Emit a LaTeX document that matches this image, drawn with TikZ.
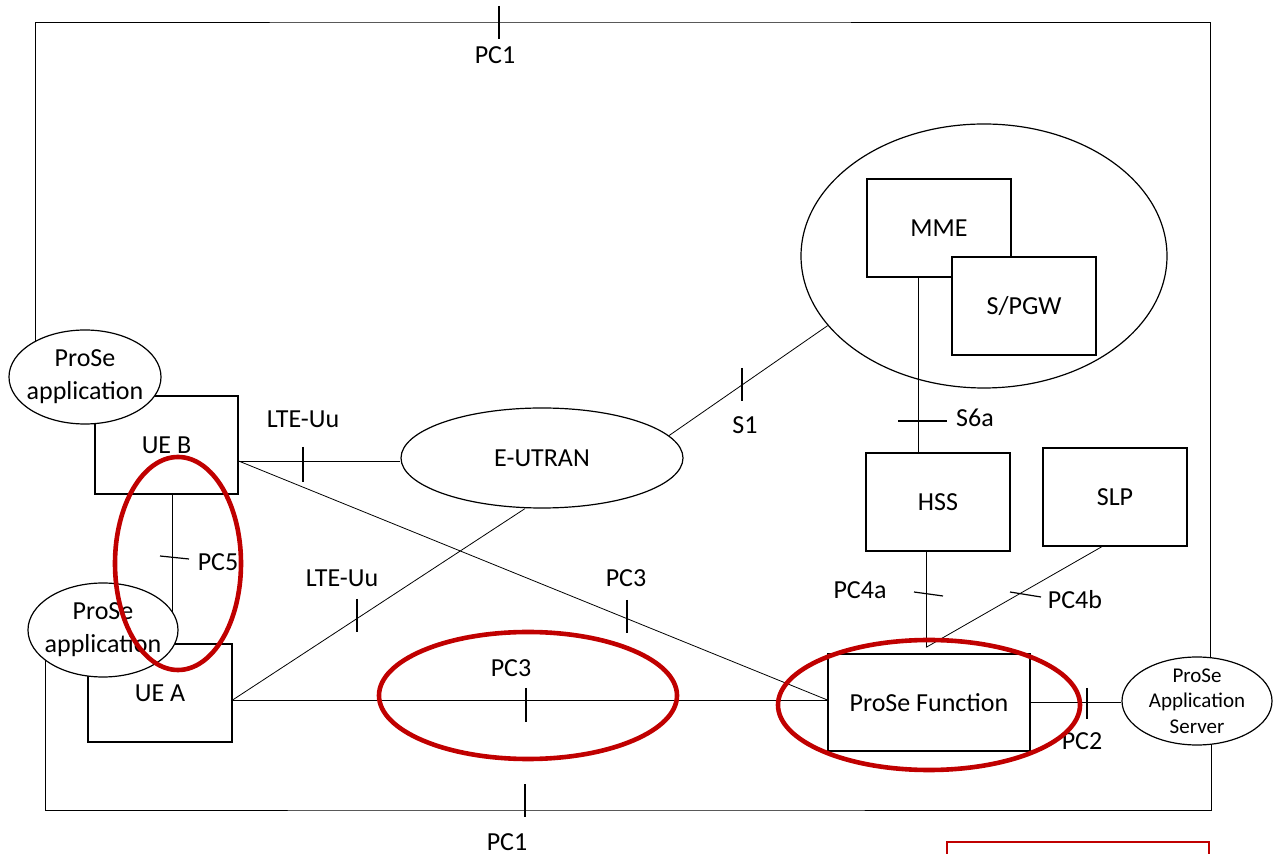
\documentclass[tikz,border=0pt]{standalone}
\usepackage{fontspec}
\setmainfont{Carlito}
\usepackage{xcolor}
\usepackage{tikz}
\usetikzlibrary{shapes.geometric, positioning, calc, backgrounds}

\definecolor{hlred}{RGB}{192,0,0}
\tikzset{
  box/.style={draw, fill=white, minimum width=72pt, minimum height=49pt, inner sep=0pt},
  oval/.style={draw, ellipse, fill=white, inner sep=0pt, align=center},
  lbl/.style={anchor=base, inner sep=0pt},
  hl/.style={draw=hlred, line width=2.3pt},
}

\begin{document}
\begin{tikzpicture}[x=0.5pt, y=-0.5pt, line width=0.6pt, font=\fontsize{13}{16.5}\selectfont]
  \useasboundingbox (0,0) rectangle (1274,854);

  % UEs with their applications
  \node[box, minimum width=71.5pt] (ueB) at (166.5,445) {UE B};
  \node[oval, minimum width=76pt, minimum height=47pt,
        label={[align=center]center:ProSe\\application}] (appB) at (85,377) {};
  \node[box] (ueA) at (160,693) {UE A};
  \node[oval, minimum width=75pt, minimum height=47pt,
        label={[align=center]center:ProSe\\application}] (appA) at (103,630) {};

  % network side
  \node[oval, minimum width=141pt, minimum height=50pt] (eutran) at (542,458) {E-UTRAN};
  \node[oval, fill=none, minimum width=183pt, minimum height=132pt] (epc) at (984,256) {};
  \node[box] (mme) at (939,228) {MME};
  \node[box] (spgw) at (1024,306) {S/PGW};
  \node[box] (hss) at (938,502) {HSS};
  \node[box] (slp) at (1115,497) {SLP};
  \node[box, minimum width=101pt, minimum height=48.5pt] (pf) at (929,702.5) {ProSe Function};
  \node[oval, minimum width=75pt, minimum height=44pt,
        label={[align=center, font=\fontsize{10.5}{12.75}\selectfont]center:ProSe\\Application\\Server}] (as) at (1197,701) {};

  % reference points
  \begin{scope}[on background layer]
    \coordinate (pc1t) at (499,22);
    \coordinate (pc1b) at (525,810);
    \draw ([xshift=-25pt]appB.center) |- (pc1t) -| ([xshift=6.5pt]as.center);
    \draw ([xshift=-29pt]appA.center) |- (pc1b) -| ([xshift=7pt]as.center);

    \coordinate (ueBp) at ([yshift=-8pt]ueB.east);
    \coordinate (ueAp) at ([yshift=-3.5pt]ueA.east);
    \coordinate (pfW) at (ueAp -| pf.west);
    \draw (ueBp) -- (ueBp -| eutran.west);
    \draw (ueBp) -- (pfW);
    \draw (ueAp) -- ([xshift=-8.5pt]eutran.south);
    \draw (ueAp) -- (pfW);
    \draw ([xshift=3pt]ueB.south) -- ([xshift=3pt]ueB.south |- appA.center);

    \draw (eutran.10) -- (epc.204);
    \coordinate (s6a) at ([xshift=-10.5pt]mme.south);
    \draw (s6a) -- (s6a |- hss.north);
    \coordinate (pc4) at ([xshift=-1.5pt, yshift=3pt]pf.north);
    \draw (pc4 |- hss.south) -- (pc4);
    \draw ([xshift=-6.5pt]slp.south) -- (pc4);
    \draw (pf.east) -- (pf.east -| as.west);
  \end{scope}

  % ticks
  \foreach \x/\ya/\yb in {499/6/39, 525/784/817, 303/447/482, 627/600/633,
                          357/599/632, 526/688/722, 742/368/401, 1087/688/719}
    \draw (\x,\ya) -- (\x,\yb);
  \draw (160,556) -- (189,559);
  \draw (914,592) -- (943,596);
  \draw (1010,592) -- (1041,597);
  \draw (898,421) -- (947,421);

  % labels
  \foreach \x/\y/\t [count=\i] in {495/64/PC1, 507/850/PC1, 303/428/LTE-Uu, 342/587/LTE-Uu,
                                   626/587/PC3, 511/677/PC3, 745/434/S1, 975/427/S6a,
                                   860/599/PC4a, 1075/609/PC4b, 1082/749/PC2, 218/571/PC5}
    \node[lbl] (lbl\i) at (\x,\y) {\t};

  % highlights
  \draw[hl] (178,563.5) ellipse [x radius=31.5pt, y radius=53.25pt];
  \draw[hl] (528,695.5) ellipse [x radius=74.5pt, y radius=31.75pt];
  \draw[hl] (929,705) ellipse [x radius=75.5pt, y radius=32.5pt];
  \draw[draw=hlred, line width=1pt] (947,842) rectangle (1209,900);
\end{tikzpicture}
\end{document}
